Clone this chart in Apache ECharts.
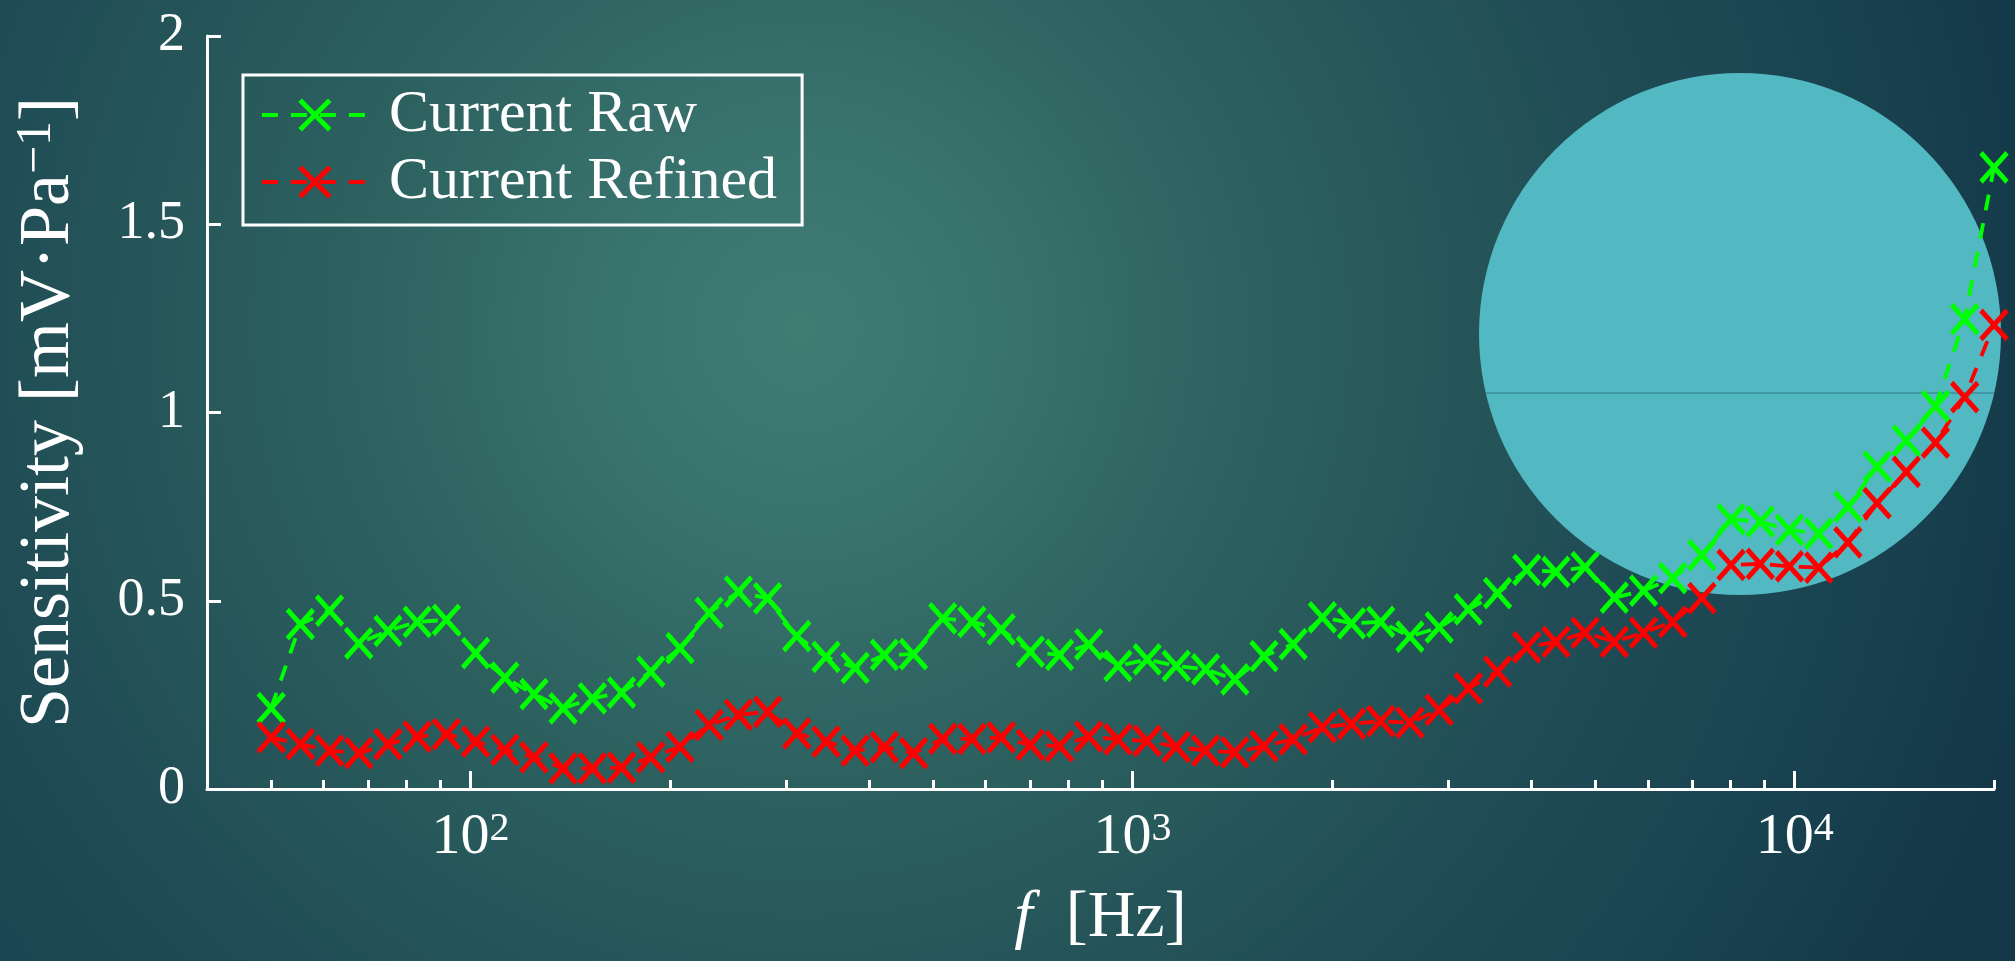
<!DOCTYPE html>
<html>
<head>
<meta charset="utf-8">
<script src="https://cdn.jsdelivr.net/npm/echarts@6/dist/echarts.min.js"></script>
<style>
html,body{margin:0;padding:0;width:2015px;height:961px;overflow:hidden;background:#1f4b55;}
#chart{width:2015px;height:961px;}
</style>
</head>
<body>
<div id="chart"></div>
<script>
// Frequencies [Hz] of the measurement points
const freqs = [50, 55.34, 61.26, 67.81, 75.05, 83.08, 91.95, 101.8, 112.7, 124.7,
  138.0, 152.8, 169.1, 187.2, 207.2, 229.3, 253.9, 281.0, 311.0, 344.3,
  381.0, 421.8, 466.8, 516.7, 572.0, 633.1, 700.8, 775.7, 858.5, 950.3,
  1052, 1164, 1289, 1427, 1579, 1748, 1935, 2141, 2370, 2623,
  2904, 3214, 3558, 3938, 4359, 4825, 5340, 5911, 6543, 7242,
  8016, 8872, 9821, 10870, 12032, 13318, 14741, 16317, 18061, 20000];

// Sensitivity [mV/Pa]
const currentRaw = [0.215, 0.438, 0.474, 0.387, 0.420, 0.444, 0.449, 0.361, 0.296, 0.252,
  0.214, 0.241, 0.256, 0.312, 0.374, 0.468, 0.524, 0.506, 0.406, 0.351,
  0.322, 0.356, 0.358, 0.453, 0.444, 0.424, 0.365, 0.356, 0.384, 0.327,
  0.344, 0.327, 0.318, 0.291, 0.353, 0.385, 0.456, 0.440, 0.444, 0.405,
  0.429, 0.477, 0.520, 0.582, 0.577, 0.589, 0.508, 0.527, 0.560, 0.621,
  0.716, 0.710, 0.688, 0.678, 0.750, 0.856, 0.925, 1.017, 1.248, 1.651];

const currentRefined = [0.137, 0.119, 0.102, 0.095, 0.119, 0.139, 0.146, 0.126, 0.104, 0.084,
  0.055, 0.055, 0.057, 0.084, 0.112, 0.170, 0.197, 0.205, 0.148, 0.126,
  0.102, 0.111, 0.095, 0.133, 0.133, 0.137, 0.117, 0.114, 0.139, 0.132,
  0.128, 0.112, 0.102, 0.097, 0.114, 0.132, 0.164, 0.173, 0.180, 0.176,
  0.210, 0.267, 0.312, 0.376, 0.391, 0.415, 0.391, 0.415, 0.444, 0.507,
  0.595, 0.598, 0.591, 0.588, 0.655, 0.759, 0.842, 0.920, 1.041, 1.233];

const seriesNames = ['Current Raw', 'Current Refined'];

// Axis ticks
const xMajorTicks = [100, 1000, 10000];
const xMinorTicks = [50, 60, 70, 80, 90, 200, 300, 400, 500, 600, 700, 800, 900,
  2000, 3000, 4000, 5000, 6000, 7000, 8000, 9000, 20000];
const yMin = 0, yMax = 2, yStep = 0.5;
const xMin = 40, xMax = 20000;

const FONT = '"Liberation Serif", "DejaVu Serif", serif';
const WHITE = '#ffffff';
const GREEN = '#00ff00';
const RED = '#ff0000';
const XSYM = 'path://M0,0L26,29M26,0L0,29';

const chart = echarts.init(document.getElementById('chart'), null, {renderer: 'canvas'});

function mkSeries(name, vals, color) {
  return {
    name: name,
    type: 'line',
    xAxisIndex: 0,
    yAxisIndex: 0,
    data: freqs.map((f, i) => [f, vals[i]]),
    symbol: XSYM,
    symbolSize: [26, 29],
    symbolKeepAspect: false,
    showSymbol: true,
    clip: false,
    lineStyle: {color: color, width: 3.8, type: [16, 13], cap: 'butt'},
    itemStyle: {color: color, borderColor: color, borderWidth: 5},
    emphasis: {disabled: true},
    z: 3
  };
}

const option = {
  animation: false,
  backgroundColor: 'transparent',
  graphic: [
    {
      type: 'rect', z: -10, silent: true,
      shape: {x: 0, y: 0, width: 2015, height: 961},
      style: {
        fill: {
          type: 'radial', x: 0.397, y: 0.343, r: 1.353,
          colorStops: [
            {offset: 0, color: '#407c74'},
            {offset: 0.15, color: '#39736e'},
            {offset: 0.3, color: '#2f6562'},
            {offset: 0.5, color: '#265659'},
            {offset: 0.66, color: '#1f4b55'},
            {offset: 0.8, color: '#1a4451'},
            {offset: 1, color: '#133747'}
          ]
        }
      }
    },
    {
      type: 'circle', z: -5, silent: true,
      shape: {cx: 1740, cy: 334, r: 261},
      style: {fill: '#52b8c2'}
    },
    {
      type: 'line', z: -4, silent: true,
      shape: {x1: 1486, y1: 393, x2: 1994, y2: 393},
      style: {stroke: '#3b8f99', lineWidth: 1.5}
    }
  ],
  grid: {left: 207, right: 21, top: 36, bottom: 172, containLabel: false},
  legend: {
    data: seriesNames,
    orient: 'vertical',
    left: 243,
    top: 75,
    padding: [10, 25, 13, 17],
    borderColor: WHITE,
    borderWidth: 3,
    borderRadius: 0,
    backgroundColor: 'transparent',
    itemWidth: 106,
    itemHeight: 37,
    itemGap: 7,
    selectedMode: false,
    lineStyle: {width: 3.8},
    itemStyle: {borderWidth: 5},
    textStyle: {color: WHITE, fontSize: 60, fontFamily: FONT, padding: [0, 0, 0, 16]}
  },
  xAxis: [
    {
      type: 'log', logBase: 10, min: xMin, max: xMax, position: 'bottom',
      axisLine: {show: true, onZero: false, lineStyle: {color: WHITE, width: 3}},
      axisTick: {show: true, inside: true, length: 18, lineStyle: {color: WHITE, width: 3}, customValues: xMajorTicks},
      minorTick: {show: false},
      splitLine: {show: false},
      axisLabel: {
        customValues: xMajorTicks,
        margin: 20,
        color: WHITE,
        formatter: function (v) { return '{b|10}{s|' + Math.round(Math.log10(v)) + '}'; },
        rich: {
          b: {fontSize: 58, fontFamily: FONT, color: WHITE, lineHeight: 58, verticalAlign: 'bottom'},
          s: {fontSize: 40, fontFamily: FONT, color: WHITE, lineHeight: 58, verticalAlign: 'top', padding: [0, 0, 16, 0]}
        }
      },
      name: '{i|f}  [Hz]',
      nameLocation: 'middle',
      nameGap: 97,
      nameTextStyle: {
        color: WHITE, fontSize: 66, fontFamily: FONT,
        rich: {
          i: {fontStyle: 'italic', fontSize: 66, fontFamily: FONT, color: WHITE}
        }
      }
    },
    {
      type: 'log', logBase: 10, min: xMin, max: xMax, position: 'bottom',
      axisLine: {show: false},
      axisTick: {show: true, inside: true, length: 9, lineStyle: {color: WHITE, width: 3}, customValues: xMinorTicks},
      axisLabel: {show: false},
      minorTick: {show: false},
      splitLine: {show: false}
    }
  ],
  yAxis: {
    type: 'value', min: yMin, max: yMax, interval: yStep,
    axisLine: {show: true, onZero: false, lineStyle: {color: WHITE, width: 3}},
    axisTick: {show: true, inside: true, length: 14, lineStyle: {color: WHITE, width: 3}},
    splitLine: {show: false},
    axisLabel: {color: WHITE, fontSize: 54, fontFamily: FONT, margin: 22},
    name: 'Sensitivity [mV·Pa{s|−1}]',
    nameLocation: 'middle',
    nameGap: 121,
    nameTextStyle: {
      color: WHITE, fontSize: 72, fontFamily: FONT,
      rich: {
        s: {fontSize: 50, fontFamily: FONT, color: WHITE, verticalAlign: 'top', padding: [0, 0, 24, 0]}
      }
    }
  },
  series: [
    mkSeries(seriesNames[0], currentRaw, GREEN),
    mkSeries(seriesNames[1], currentRefined, RED)
  ]
};

chart.setOption(option);
</script>
</body>
</html>
